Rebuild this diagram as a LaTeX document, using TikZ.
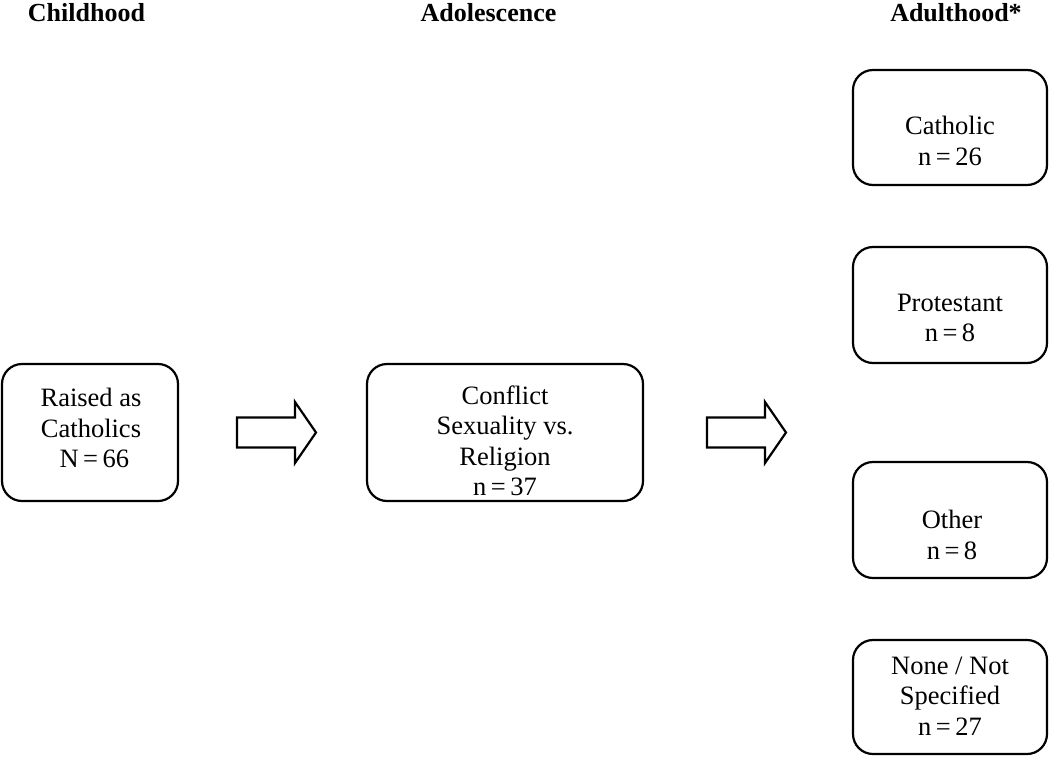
\documentclass[tikz,border=0pt]{standalone}
\usepackage{fontspec}
\setmainfont{Liberation Serif}
\usepackage{tikz}

\tikzset{
  stagebox/.style={draw, line width=2.2pt, rounded corners=20pt, inner sep=0pt},
  boxtext/.style={align=center, font=\fontsize{26.5}{30.5}\selectfont, inner sep=0pt},
  stagehead/.style={font=\fontsize{26}{30}\selectfont\bfseries, inner sep=0pt},
  blockarrow/.style={draw, line width=2.2pt, line join=miter}
}

\begin{document}
\begin{tikzpicture}[x=1pt, y=-1pt]
  \useasboundingbox (0,0) rectangle (1050,758);
  % stage headings
  \node[stagehead] (child) at (86.5,13) {Childhood};
  \node[stagehead] (adol) at (488.5,13) {Adolescence};
  \node[stagehead] (adult) at (956,13) {Adulthood*};
  % childhood and adolescence
  \node[stagebox, minimum width=176pt, minimum height=137pt] (raised) at (90,432.5) {};
  \node[boxtext] (raisedtext) at (91,428) {Raised as\\Catholics\\\ N\,=\,66};
  \node[stagebox, minimum width=276pt, minimum height=137pt] (conflict) at (505,432.5) {};
  \node[boxtext] (conflicttext) at (505,441) {Conflict\\Sexuality vs.\\Religion\\n\,=\,37};
  % hollow block arrows between the stages
  \coordinate (arrowA) at (237,432.5);
  \coordinate (arrowB) at (707,432.5);
  \foreach \a in {arrowA, arrowB}{
    \draw[blockarrow] (\a) ++(0,-15) -- ++(58,0) -- ++(0,-15.5) -- ++(21,30.5)
      -- ++(-21,30.5) -- ++(0,-15.5) -- ++(-58,0) -- cycle;
  }
  % adulthood outcomes
  \node[stagebox, minimum width=194pt, minimum height=115pt] (catholic) at (950,127.5) {};
  \node[boxtext] (catholictext) at (950,141) {Catholic\\n\,=\,26};
  \node[stagebox, minimum width=194pt, minimum height=116pt] (protestant) at (950,305) {};
  \node[boxtext] (protestanttext) at (950,318) {Protestant\\n\,=\,8};
  \node[stagebox, minimum width=194pt, minimum height=116pt] (other) at (950,520) {};
  \node[boxtext] (othertext) at (952,535) {Other\\n\,=\,8};
  \node[stagebox, minimum width=194pt, minimum height=114pt] (none) at (950,697) {};
  \node[boxtext] (nonetext) at (950,696) {None / Not\\Specified\\n\,=\,27};
\end{tikzpicture}
\end{document}
